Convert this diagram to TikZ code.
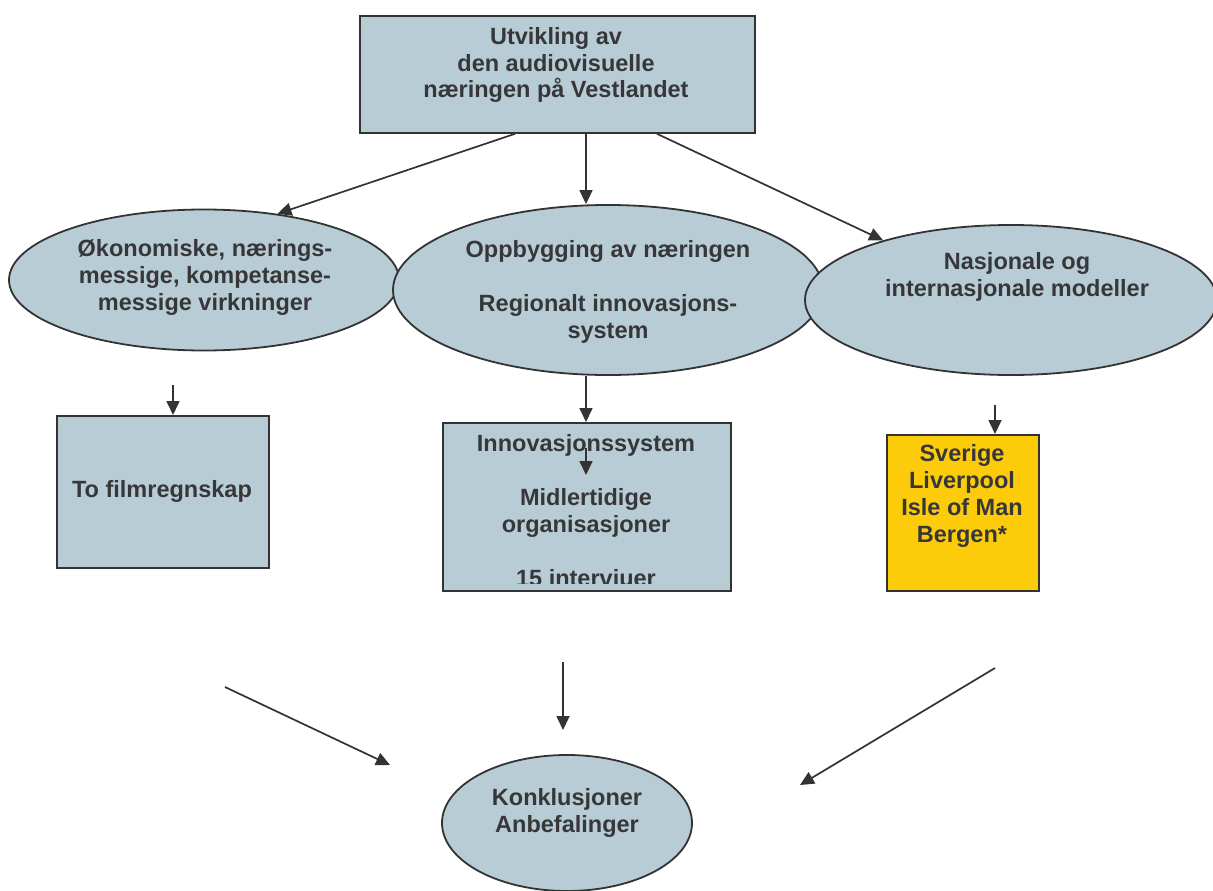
\documentclass[tikz,border=0pt]{standalone}
\usepackage{fontspec}
\setmainfont{Liberation Sans}
\usetikzlibrary{shapes.geometric,arrows.meta}
\definecolor{bg}{RGB}{184,204,214}
\definecolor{yel}{RGB}{252,203,10}
\definecolor{lc}{RGB}{51,51,51}
\definecolor{tc}{RGB}{55,55,58}
\tikzset{
  lbl/.style={font=\fontsize{23.5}{27}\selectfont\bfseries, text=tc, align=center, inner sep=0pt},
  shp/.style={draw=lc, line width=1.8pt, fill=bg, inner sep=0pt},
  ell/.style={shp, ellipse},
  arr/.style={draw=lc, line width=1.7pt, -{Triangle[length=14pt,width=13pt]}},
}
\begin{document}
\begin{tikzpicture}[x=1pt,y=-1pt]
\useasboundingbox (0,0) rectangle (1213,891);
% top box
\node[shp, minimum width=395pt, minimum height=117pt, anchor=north west] (top) at (359,15) {};
\node[lbl, anchor=base] (toptxt) at (556,98) {Utvikling av\\den audiovisuelle\\næringen på Vestlandet};
% ellipses
\node[ell, minimum width=390pt, minimum height=141pt] (eL) at (204,280) {};
\node[ell, minimum width=430pt, minimum height=170pt] (eM) at (608,290) {};
\node[ell, minimum width=412pt, minimum height=150pt] (eR) at (1011,300) {};
\node[lbl, anchor=base] (eLt) at (205,310) {Økonomiske, nærings-\\messige, kompetanse-\\messige virkninger};
\node[lbl, anchor=base] (eMt) at (608,338) {Oppbygging av næringen\\\mbox{}\\Regionalt innovasjons-\\system};
\node[lbl, anchor=base] (eRt) at (1017,296) {Nasjonale og\\internasjonale modeller};
% arrows from top
\draw[arr] (top.south -| 515,0) -- (eL.42);
\draw[arr] (top.south -| 586,0) -- (eM.north -| 586,0);
\draw[arr] (top.south -| 657,0) -- (eR.155);
% lower boxes
\node[shp, minimum width=212pt, minimum height=152pt, anchor=north west] (b1) at (56,415) {};
\node[lbl, anchor=base] (b1t) at (162,497) {To filmregnskap};
\node[shp, minimum width=288pt, minimum height=168pt, anchor=north west] (b2) at (442,422) {};
\begin{scope}
\clip (442,422) rectangle (730,583);
\node[lbl, anchor=base] (b2t) at (586,586) {Innovasjonssystem\\\mbox{}\\Midlertidige\\organisasjoner\\\mbox{}\\15 intervjuer};
\end{scope}
\coordinate (inA) at (586,448);
\coordinate (inB) at (586,475);
\draw[arr] (inA) -- (inB);
\node[shp, fill=yel, minimum width=152pt, minimum height=156pt, anchor=north west] (b3) at (886,434) {};
\node[lbl, anchor=base] (b3t) at (962,542) {Sverige\\Liverpool\\Isle of Man\\Bergen*};
% arrows to lower boxes
\coordinate (a1) at (173,385);
\coordinate (a3) at (995,405);
\draw[arr] (a1) -- (b1.north -| a1);
\draw[arr] (eM.south -| 586,0) -- (b2.north -| 586,0);
\draw[arr] (a3) -- (b3.north -| a3);
% bottom
\node[ell, minimum width=250pt, minimum height=136pt] (eB) at (567,823) {};
\node[lbl, anchor=base] (eBt) at (567,832) {Konklusjoner\\Anbefalinger};
\coordinate (c1s) at (225,687);
\coordinate (c1e) at (390,765);
\coordinate (c2s) at (563,662);
\coordinate (c2e) at (563,730);
\coordinate (c3s) at (995,668);
\coordinate (c3e) at (800,785);
\draw[arr] (c1s) -- (c1e);
\draw[arr] (c2s) -- (c2e);
\draw[arr] (c3s) -- (c3e);
\end{tikzpicture}
\end{document}
